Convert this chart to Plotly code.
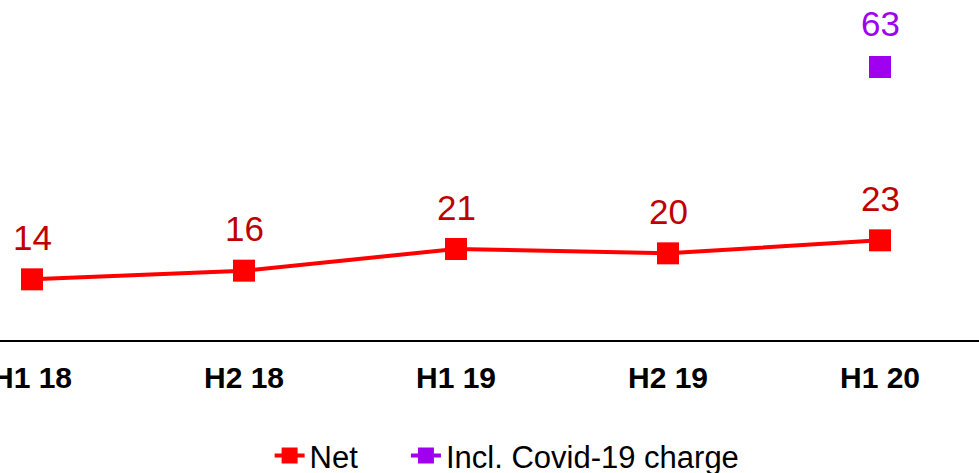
import plotly.graph_objects as go

categories = ["H1 18", "H2 18", "H1 19", "H2 19", "H1 20"]
net_values = [14, 16, 21, 20, 23]
covid_values = [None, None, None, None, 63]
series_names = ["Net", "Incl. Covid-19 charge"]

FONT = "Arial, Liberation Sans, sans-serif"
RED = "#FF0000"
DARKRED = "#C00000"
PURPLE = "#A000F0"
PAD = "\u00a0" * 5  # spacing between legend entries

fig = go.Figure()
fig.add_trace(go.Scatter(
    x=categories, y=net_values, name=series_names[0] + PAD, mode="lines+markers",
    line=dict(color=RED, width=4),
    marker=dict(symbol="square", size=22, color=RED),
))
fig.add_trace(go.Scatter(
    x=categories, y=covid_values, name=series_names[1], mode="lines+markers",
    line=dict(color=PURPLE, width=4),
    marker=dict(symbol="square", size=22, color=PURPLE),
))

annotations = []
for c, v in zip(categories, net_values):
    annotations.append(dict(x=c, y=v, text=str(v), showarrow=False, yshift=42,
                            font=dict(family=FONT, size=35, color=DARKRED)))
for c, v in zip(categories, covid_values):
    if v is not None:
        annotations.append(dict(x=c, y=v, text=str(v), showarrow=False, yshift=43,
                                font=dict(family=FONT, size=35, color=PURPLE)))

fig.update_layout(
    width=979, height=473,
    margin=dict(l=0, r=0, t=0, b=133, autoexpand=False),
    paper_bgcolor="white", plot_bgcolor="white",
    font=dict(family=FONT, color="black"),
    showlegend=True,
    legend=dict(orientation="h", x=0.518, xanchor="center", y=-0.341, yanchor="middle",
                font=dict(family=FONT, size=31, color="black"), itemwidth=30,
                bgcolor="rgba(0,0,0,0)"),
    annotations=annotations,
    xaxis=dict(type="category", range=[-0.151, 4.467], showgrid=False, zeroline=False,
               automargin=False,
               showline=True, linecolor="black", linewidth=2, ticks="",
               ticklabelstandoff=10,
               tickfont=dict(family=FONT, size=30, color="black", weight="bold")),
    yaxis=dict(range=[0, 78.46], showgrid=False, zeroline=False, showline=False,
               automargin=False, showticklabels=False, ticks=""),
)

fig.write_html(
    "out.html",
    config={"displayModeBar": False},
    post_script="document.body.style.margin='0';document.body.style.overflow='hidden';",
)
